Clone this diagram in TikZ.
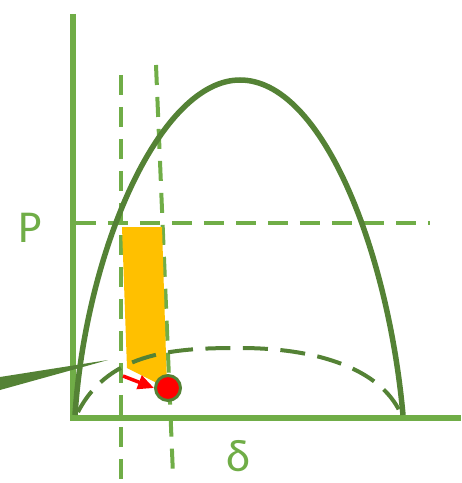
\documentclass[tikz,border=0pt]{standalone}
\usepackage{fontspec}
\setmainfont{Carlito}
\usetikzlibrary{arrows.meta}
\begin{document}
\begin{tikzpicture}[x=0.02cm,y=-0.02cm]
\definecolor{achse}{HTML}{70AD47}
\definecolor{kurve}{HTML}{548235}
\definecolor{flaeche}{HTML}{FFC000}
\tikzset{
  hilfslinie/.style={achse, line width=0.08cm, dash pattern=on 0.4cm off 0.24cm},
  kurvenlinie/.style={kurve, line width=0.11cm},
}
\useasboundingbox (0,0) rectangle (461,483);
% Achsen
\draw[achse, line width=0.12cm] (73,14) -- (73,418) -- (461,418);
% Hilfslinien
\draw[hilfslinie] (76,223) -- (430,223);
\draw[hilfslinie] (121,75) -- (121,483);
\draw[hilfslinie] (156,65) -- (173,475);
% Flaeche
\fill[flaeche] (122,227) -- (162,227) -- (167,388) -- (127,368) -- cycle;
% Kurven
\draw[kurvenlinie] (75,415) .. controls (86,250) and (160,80) .. (240,80)
  .. controls (322,80) and (388,250) .. (403,415);
\draw[kurvenlinie, line width=0.08cm, dash pattern=on 0.5cm off 0.25cm]
  (78,412) .. controls (110,350) and (180,348) .. (240,348)
  .. controls (320,348) and (380,370) .. (400,412);
% Keil
\fill[kurve] (0,377) -- (108,360) -- (0,390) -- cycle;
% Punkt und Pfeil
\node[circle, fill=red, draw=kurve, line width=0.06cm, minimum size=0.5cm, inner sep=0pt] (pt) at (168,388) {};
\coordinate (pfeilstart) at (123,376);
\draw[red, line width=0.07cm, -{Triangle[length=0.32cm,width=0.28cm]}] (pfeilstart) -- (pt.west);
% Beschriftung
\node[text=achse, font=\fontsize{26}{30}\selectfont] (plabel) at (30,228) {P};
\node[text=achse, font=\fontsize{26}{30}\selectfont] (dlabel) at (238,456) {δ};
\end{tikzpicture}
\end{document}
